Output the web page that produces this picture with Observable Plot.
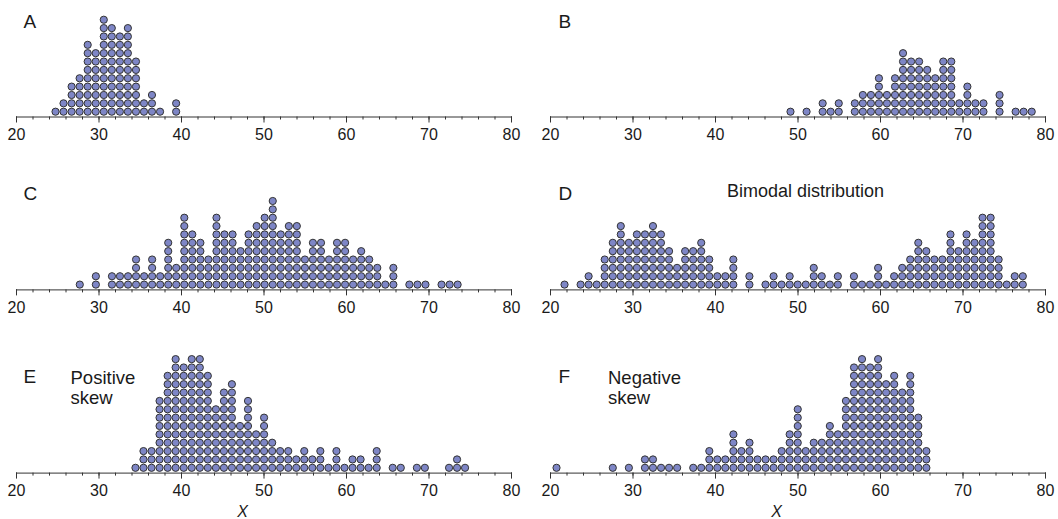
<!DOCTYPE html>
<html><head><meta charset="utf-8">
<script src="https://cdn.jsdelivr.net/npm/d3@7"></script>
<script src="https://cdn.jsdelivr.net/npm/@observablehq/plot@0.6"></script>
<style>
html,body{margin:0;padding:0;background:#fff;}
#chart{position:relative;width:1058px;height:519px;overflow:hidden;}
#chart svg{position:absolute;}
</style></head><body><div id="chart"></div>
<script>
// Bin centres (x) and number of stacked dots per bin
const panelA_x = [24.73,25.70,26.68,27.65,28.63,29.60,30.58,31.55,32.53,33.50,34.48,35.45,36.42,37.40,39.35];
const panelA_n = [1,2,4,5,9,8,12,11,10,11,7,2,3,1,2];

const panelB_x = [49.09,51.04,52.99,53.96,54.94,56.89,57.86,58.84,59.81,60.78,61.76,62.73,63.71,64.68,65.66,66.63,67.61,68.58,69.55,70.53,71.50,72.48,74.43,76.38,77.35,78.33];
const panelB_n = [1,1,2,1,2,2,3,3,5,3,5,8,7,7,6,5,7,7,2,4,2,2,3,1,1,1];

const panelC_x = [27.67,29.62,31.57,32.54,33.52,34.49,35.47,36.44,37.42,38.39,39.36,40.34,41.31,42.29,43.26,44.24,45.21,46.19,47.16,48.13,49.11,50.08,51.06,52.03,53.01,53.98,54.96,55.93,56.91,57.88,58.85,59.83,60.80,61.78,62.75,63.73,64.70,65.68,67.62,68.60,69.57,71.52,72.50,73.47];
const panelC_n = [1,2,2,2,2,4,2,4,2,6,3,9,7,6,4,9,7,7,5,7,8,9,11,7,8,8,4,6,6,4,6,6,4,5,4,3,1,3,1,1,1,1,1,1];

const panelD_x = [21.70,23.65,24.62,25.60,26.57,27.55,28.52,29.50,30.47,31.45,32.42,33.39,34.37,35.34,36.32,37.29,38.27,39.24,40.22,41.19,42.16,44.11,46.06,47.04,48.01,48.99,49.96,50.94,51.91,52.88,53.86,54.83,56.78,57.76,58.73,59.71,60.68,61.65,62.63,63.60,64.58,65.55,66.53,67.50,68.48,69.45,70.43,71.40,72.37,73.35,74.32,75.30,76.27,77.25];
const panelD_n = [1,1,2,1,4,6,8,6,7,7,8,7,5,3,5,5,6,4,2,2,4,2,1,2,1,2,1,1,3,2,1,2,2,1,1,3,1,2,3,4,6,5,4,4,7,5,7,6,9,9,4,1,2,2];

const panelE_x = [34.42,35.39,36.37,37.34,38.32,39.29,40.27,41.24,42.22,43.19,44.17,45.14,46.11,47.09,48.06,49.04,50.01,50.99,51.96,52.94,53.91,54.88,55.86,56.83,57.81,58.78,59.76,60.73,61.71,62.68,63.66,65.60,66.58,68.53,69.50,72.43,73.40,74.37];
const panelE_n = [1,3,3,9,12,14,13,14,14,12,8,10,11,6,9,5,7,4,3,3,2,3,2,3,1,3,1,2,2,1,3,1,1,1,1,1,2,1];

const panelF_x = [20.73,27.55,29.50,31.45,32.42,33.40,34.37,35.35,37.30,38.27,39.25,40.22,41.19,42.17,43.14,44.12,45.09,46.07,47.04,48.02,48.99,49.97,50.94,51.91,52.89,53.86,54.84,55.81,56.79,57.76,58.74,59.71,60.68,61.66,62.63,63.61,64.58,65.56];
const panelF_n = [1,1,1,2,2,1,1,1,1,1,3,2,2,5,3,4,2,2,2,3,5,8,3,4,4,6,5,9,13,14,13,14,11,12,10,12,7,3];

const tickMajor = [20,30,40,50,60,70,80];
const tickMinor = [20,22,24,26,28,30,32,34,36,38,40,42,44,46,48,50,52,54,56,58,60,62,64,66,68,70,72,74,76,78,80];

const panelLetters = ["A","B","C","D","E","F"];
const panelNotes = ["", "", "", "Bimodal distribution", "Positive\nskew", "Negative\nskew"];
const axisTitle = "X";

const chart = document.getElementById("chart");
const FONT = "'Liberation Sans', Arial, Helvetica, sans-serif";
const W = 529, H = 173;
const axisYs = [116.5, 116.4, 126.6];
const letterDy = [13.5, 12.5, 23];

function panel(xs, ns, idx) {
  const col = idx % 2, row = Math.floor(idx / 2);
  const dots = [];
  xs.forEach((x, j) => { for (let i = 0; i < ns[j]; i++) dots.push({x, i}); });
  const axisY = axisYs[row];
  const mL = col ? 21 : 16, mR = col ? 13 : 18;
  const base = axisY - 5.3, rowH = 8.36;
  const marks = [
    Plot.frame({anchor: "bottom", stroke: "#333", strokeWidth: 1}),
    Plot.axisX({ticks: tickMinor, tickSize: 3, text: null, label: null, stroke: "#333"}),
    Plot.axisX({ticks: tickMajor, tickSize: 6, tickPadding: 6, label: null, stroke: "#333", fill: "#1a1a1a", fontSize: 16}),
    Plot.dot(dots, {x: "x", y: "i", r: 3.6, fill: "#7e86c6", stroke: "#333", strokeWidth: 1}),
    Plot.text([panelLetters[idx]], {text: d => d, frameAnchor: "top-left", dx: col ? 8 : 7, dy: letterDy[row],
      textAnchor: "start", lineAnchor: "top", fontSize: 19, fill: "#1a1a1a"})
  ];
  const note = panelNotes[idx];
  if (note) {
    if (row === 1) {
      marks.push(Plot.text([note], {text: d => d, frameAnchor: "top-left", dx: 255, dy: 10.5,
        textAnchor: "middle", lineAnchor: "top", fontSize: 18, fill: "#1a1a1a"}));
    } else {
      marks.push(Plot.text([note], {text: d => d, frameAnchor: "top-left", dx: col ? 57.5 : 54, dy: 23,
        textAnchor: "start", lineAnchor: "top", fontSize: 18.5, lineHeight: 1.08, fill: "#1a1a1a"}));
    }
  }
  if (row === 2) {
    marks.push(Plot.text([axisTitle], {text: d => d, frameAnchor: "top-left", dx: 226, dy: 159.6,
      textAnchor: "middle", lineAnchor: "top", fontSize: 16, fontStyle: "italic", fill: "#1a1a1a"}));
  }
  const svg = Plot.plot({
    width: W, height: H,
    marginLeft: mL, marginRight: mR, marginTop: 0, marginBottom: H - axisY,
    x: {domain: [20, 80], label: null},
    y: {domain: [0, 14], range: [base, base - 14 * rowH], axis: null},
    style: {fontFamily: FONT, fontSize: "16px", background: "transparent", overflow: "visible", color: "#1a1a1a"},
    marks
  });
  svg.style.left = (col * W) + "px";
  svg.style.top = (row * H) + "px";
  chart.appendChild(svg);
}

panel(panelA_x, panelA_n, 0);
panel(panelB_x, panelB_n, 1);
panel(panelC_x, panelC_n, 2);
panel(panelD_x, panelD_n, 3);
panel(panelE_x, panelE_n, 4);
panel(panelF_x, panelF_n, 5);
</script></body></html>
